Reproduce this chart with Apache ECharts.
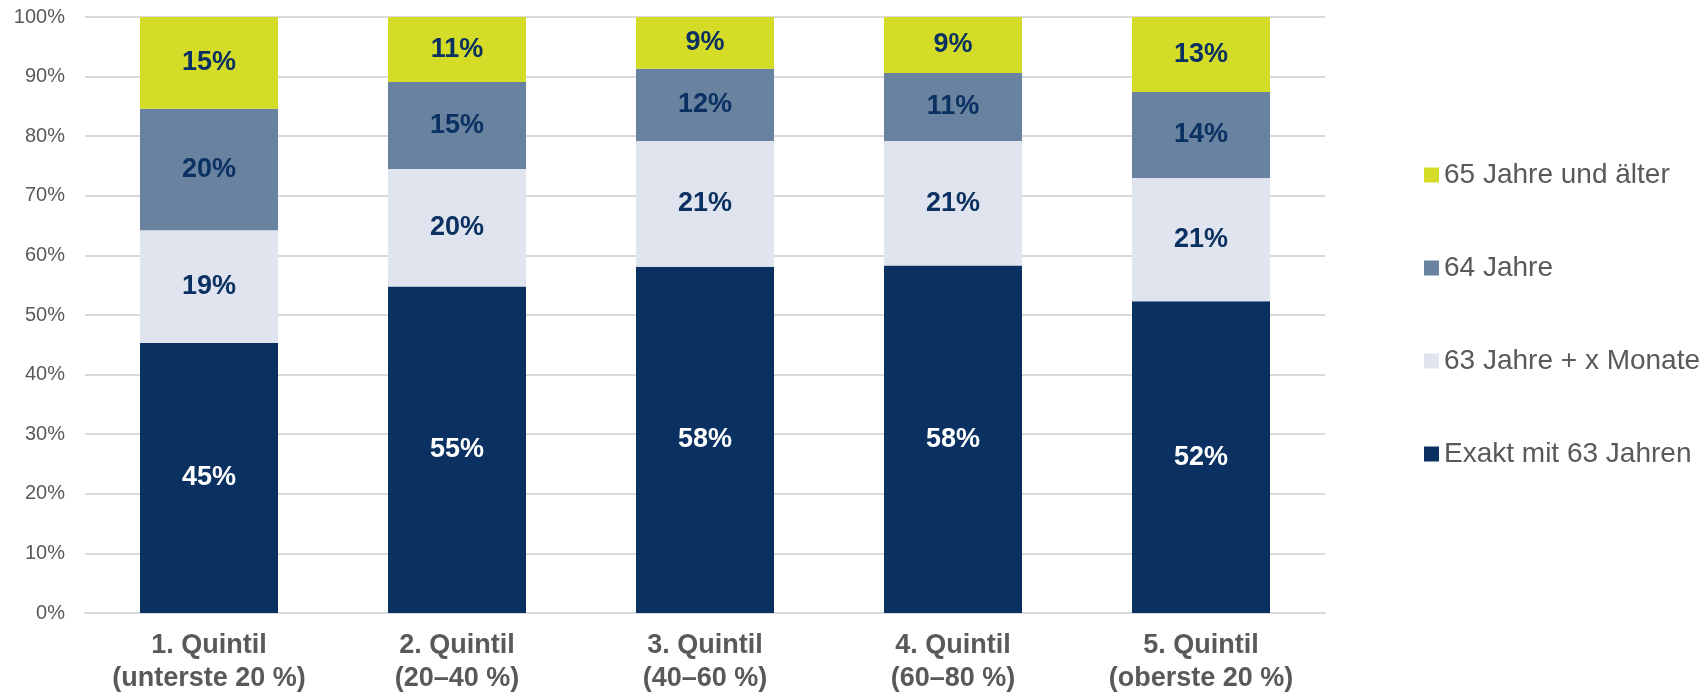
<!DOCTYPE html>
<html>
<head>
<meta charset="utf-8">
<script src="https://cdn.jsdelivr.net/npm/echarts@6/dist/echarts.min.js"></script>
<style>
  html, body { margin: 0; padding: 0; background: #fff; }
  #chart { width: 1707px; height: 696px; }
</style>
</head>
<body>
<div id="chart"></div>
<script>
// Kategorien (Einkommensquintile)
const categories = [
    '1. Quintil\n(unterste 20 %)',
    '2. Quintil\n(20–40 %)',
    '3. Quintil\n(40–60 %)',
    '4. Quintil\n(60–80 %)',
    '5. Quintil\n(oberste 20 %)'
]
// Anteile in Prozent
const exakt63 = [45.3, 54.8, 58.1, 58.3, 52.3]
const jahre63x = [18.9, 19.7, 21.1, 20.9, 20.7]
const jahre64 = [20.4, 14.6, 12.1, 11.4, 14.4]
const jahre65 = [15.4, 10.9, 8.7, 9.4, 12.6]
const legendOrder = ['65 Jahre und älter', '64 Jahre', '63 Jahre + x Monate', 'Exakt mit 63 Jahren']

const font = 'Liberation Sans, Arial, sans-serif'
const gray = '#595959'
const navy = '#0a3161'

function makeSeries(name, data, color, labelColor) {
    return {
        name: name,
        type: 'bar',
        stack: 'total',
        barWidth: 138,
        data: data,
        itemStyle: { color: color },
        label: {
            show: true,
            position: 'inside',
            color: labelColor,
            fontFamily: font,
            fontWeight: 'bold',
            fontSize: 27,
            formatter: function (p) {
                return Math.round(p.value) + '%'
            }
        }
    }
}

const chart = echarts.init(document.getElementById('chart'), null, { renderer: 'canvas' })
chart.setOption({
    animation: false,
    textStyle: { fontFamily: font },
    grid: {
        left: 85,
        right: 382,
        top: 17,
        bottom: 83
    },
    legend: {
        orient: 'vertical',
        left: 1419,
        top: 156,
        itemWidth: 15,
        itemHeight: 15,
        itemGap: 65,
        icon: 'rect',
        data: legendOrder,
        textStyle: {
            color: gray,
            fontSize: 28,
            lineHeight: 28,
            fontFamily: font
        }
    },
    xAxis: {
        type: 'category',
        data: categories,
        axisTick: { show: false },
        axisLine: {
            lineStyle: { color: '#d9d9d9', width: 2 }
        },
        axisLabel: {
            interval: 0,
            color: gray,
            fontSize: 27,
            fontWeight: 'bold',
            lineHeight: 33,
            margin: 16,
            fontFamily: font
        }
    },
    yAxis: {
        type: 'value',
        min: 0,
        max: 100,
        interval: 10,
        axisLine: { show: false },
        axisTick: { show: false },
        axisLabel: {
            formatter: '{value}%',
            color: gray,
            fontSize: 20,
            margin: 20,
            fontFamily: font
        },
        splitLine: {
            lineStyle: { color: '#d9d9d9', width: 2 }
        }
    },
    series: [
        makeSeries('Exakt mit 63 Jahren', exakt63, navy, '#ffffff'),
        makeSeries('63 Jahre + x Monate', jahre63x, '#dfe4ee', navy),
        makeSeries('64 Jahre', jahre64, '#68829f', navy),
        makeSeries('65 Jahre und älter', jahre65, '#d4dc28', navy)
    ]
})
</script>
</body>
</html>
